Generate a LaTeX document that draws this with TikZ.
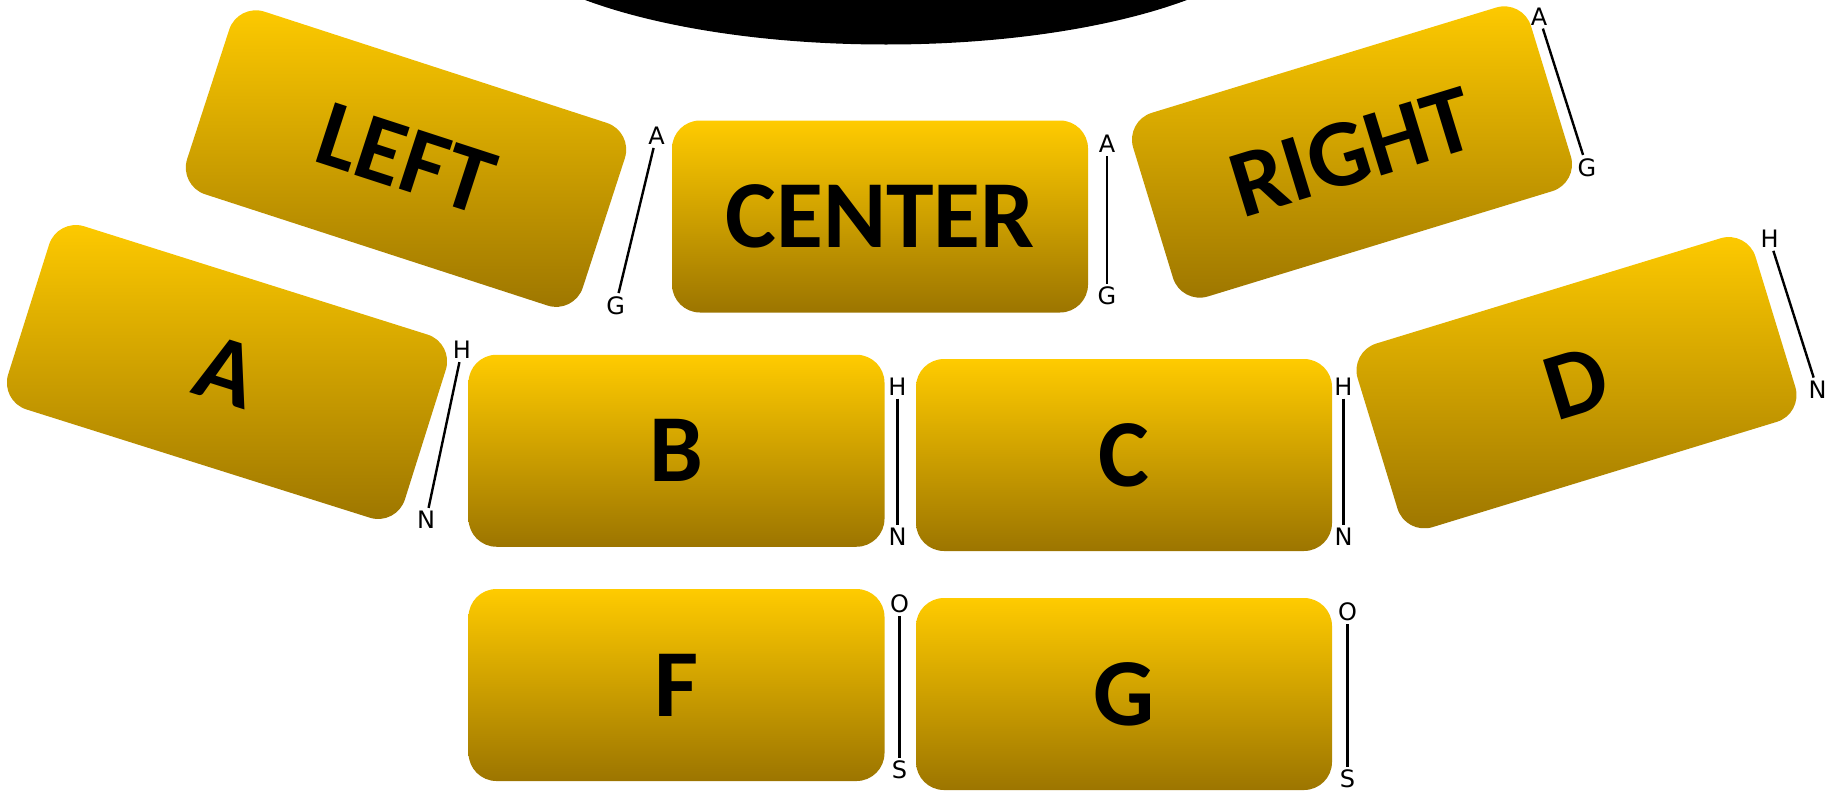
\documentclass[tikz,border=0pt]{standalone}
\usepackage{fontspec}
\setmainfont{DejaVu Sans}
\newfontfamily\seatfont{Carlito}
\usetikzlibrary{positioning}
\definecolor{seattop}{HTML}{FFCB00}
\definecolor{seatmid}{HTML}{E8AA00}
\definecolor{seatbot}{HTML}{9C7500}

\begin{document}
\begin{tikzpicture}[x=0.5pt, y=-0.5pt,
    seat/.style={rounded corners=14pt, minimum width=208pt, minimum height=96pt, inner sep=0pt,
      top color=seattop, middle color=seatmid, bottom color=seatbot,
      font=\seatfont\bfseries\fontsize{48}{48}\selectfont},
    rowlbl/.style={inner sep=1.5pt, font=\fontsize{12}{12}\selectfont},
    span/.style={line width=1.2pt, black}]

\useasboundingbox (0,0) rectangle (1835,793);

%
\begin{scope}
  \clip (0,0) rectangle (1835,793);
  \fill[black] (886,-86) ellipse [x radius=200pt, y radius=65.25pt];
\end{scope}

%
\node[seat] (center) at (880,216.5) {CENTER};
\node[seat, rotate=-18] (left) at (406,158.6) {LEFT};
\node[seat, rotate=17] (right) at (1352,152) {RIGHT};
\node[seat, rotate=-17.5] (secA) at (227,372) {A};
\node[seat] (secB) at (676.5,450.75) {B};
\node[seat] (secC) at (1124,455) {C};
\node[seat, rotate=17] (secD) at (1576.5,382.7) {D};
\node[seat] (secF) at (676.5,685) {F};
\node[seat] (secG) at (1124,694) {G};

%
\node[rowlbl] (lcA) at (656.5,135.8) {A};
\node[rowlbl] (lcG) at (615.6,305.5) {G};
\draw[span] (lcA) -- (lcG);

\node[rowlbl] (crA) at (1107,144) {A};
\node[rowlbl] (crG) at (1107,296) {G};
\draw[span] (crA) -- (crG);

\node[rowlbl] (rtA) at (1539,16.4) {A};
\node[rowlbl] (rtG) at (1587,167.4) {G};
\draw[span] (rtA) -- (rtG);

\node[rowlbl] (abH) at (462,350) {H};
\node[rowlbl] (abN) at (426,520) {N};
\draw[span] (abH) -- (abN);

\node[rowlbl] (bcH) at (897.5,386.5) {H};
\node[rowlbl] (bcN) at (897.5,537) {N};
\draw[span] (bcH) -- (bcN);

\node[rowlbl] (cdH) at (1343.5,386.5) {H};
\node[rowlbl] (cdN) at (1343.5,537) {N};
\draw[span] (cdH) -- (cdN);

\node[rowlbl] (dH) at (1769.5,238.7) {H};
\node[rowlbl] (dN) at (1817.5,389.7) {N};
\draw[span] (dH) -- (dN);

\node[rowlbl] (fgO) at (899.5,603.5) {O};
\node[rowlbl] (fgS) at (899.5,770) {S};
\draw[span] (fgO) -- (fgS);

\node[rowlbl] (gO) at (1347.5,612) {O};
\node[rowlbl] (gS) at (1347.5,779) {S};
\draw[span] (gO) -- (gS);
\end{tikzpicture}
\end{document}
